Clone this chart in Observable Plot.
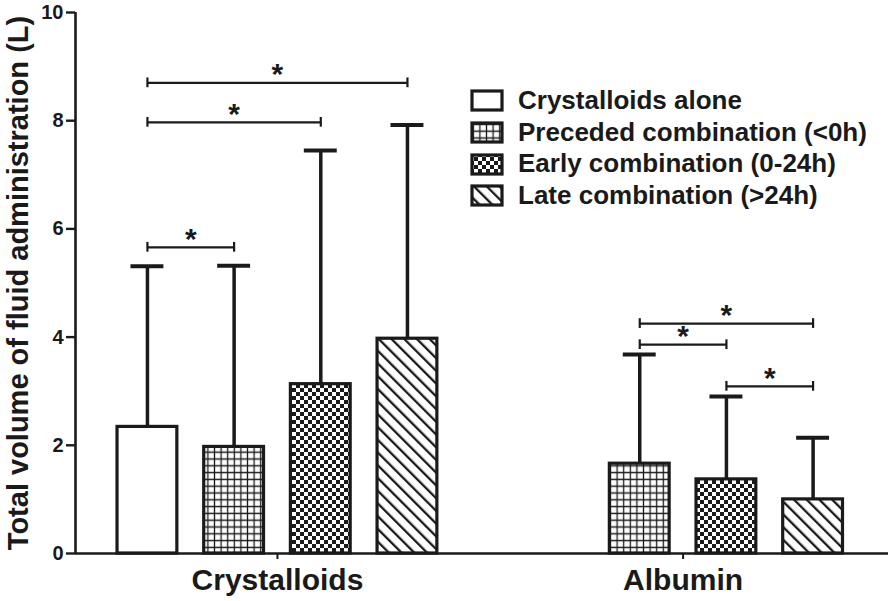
<!DOCTYPE html>
<html>
<head>
<meta charset="utf-8">
<script src="https://cdn.jsdelivr.net/npm/d3@7"></script>
<script src="https://cdn.jsdelivr.net/npm/@observablehq/plot@0.6"></script>
<style>
  html, body { margin: 0; padding: 0; background: #fff; }
  #wrap { position: relative; width: 891px; height: 601px; font-family: "Liberation Sans", Arial, sans-serif; color: #1a1a1a; }
  #wrap svg text { font-weight: bold; }
  #legend { position: absolute; left: 470px; top: 85px; font-weight: bold; font-size: 26px; line-height: 31.7px; }
  #legend .row { display: flex; align-items: center; height: 31.7px; white-space: nowrap; }
  #legend svg { margin-right: 14px; display: block; }
</style>
</head>
<body>
<svg width="0" height="0" style="position:absolute">
  <defs>
    <pattern id="pNone" patternUnits="userSpaceOnUse" width="10" height="10">
      <rect width="10" height="10" fill="#fff"/>
    </pattern>
    <pattern id="pGrid" patternUnits="userSpaceOnUse" width="6.6" height="6.8">
      <rect width="6.6" height="6.8" fill="#fff"/>
      <path d="M3.3 0V6.8M0 3.4H6.6" stroke="#1a1a1a" stroke-width="1.3"/>
    </pattern>
    <pattern id="pCheck" patternUnits="userSpaceOnUse" width="8" height="8">
      <rect width="8" height="8" fill="#fff"/>
      <rect x="0" y="0" width="4" height="4" fill="#1a1a1a"/>
      <rect x="4" y="4" width="4" height="4" fill="#1a1a1a"/>
    </pattern>
    <pattern id="pDiag" patternUnits="userSpaceOnUse" width="9" height="10" patternTransform="rotate(-45)">
      <rect width="9" height="10" fill="#fff"/>
      <rect x="0" y="0" width="2.3" height="10" fill="#1a1a1a"/>
    </pattern>
  </defs>
</svg>
<div id="wrap">
  <div id="chart"></div>
  <div id="legend"></div>
</div>
<script>
// ---- data ----
const groups = ["Crystalloids", "Albumin"];
const series = ["Crystalloids alone", "Preceded combination (<0h)", "Early combination (0-24h)", "Late combination (>24h)"];
const crystalloidMean  = [2.34, 1.97, 3.13, 3.97];
const crystalloidUpper = [5.31, 5.32, 7.45, 7.92];
const albuminMean  = [null, 1.66, 1.37, 1.00];
const albuminUpper = [null, 3.68, 2.90, 2.14];
const yTicks = [0, 2, 4, 6, 8, 10];
const yTitle = "Total volume of fluid administration (L)";

// significance brackets
const bracketGroup = ["Crystalloids", "Crystalloids", "Crystalloids", "Albumin", "Albumin", "Albumin"];
const bracketFrom  = [0, 0, 0, 1, 1, 2];
const bracketTo    = [1, 2, 3, 3, 2, 3];
const bracketY     = [5.66, 7.97, 8.70, 4.25, 3.86, 3.09];
const bracketLabel = ["*", "*", "*", "*", "*", "*"];

// ---- layout (styles, not data) ----
const patterns = ["url(#pNone)", "url(#pGrid)", "url(#pCheck)", "url(#pDiag)"];
const groupGap = 4.68;     // distance between group centres, in bar slots
const barHalf = 0.345;     // half bar width, in bar slots
const capHalf = 0.19;      // half error cap width
const tickHalf = 0.09;     // bracket end tick half height (y units)
const xDomain = [-2.33, 7.05];
const ink = "#1a1a1a";

const pos = (g, s) => groups.indexOf(g) * groupGap + s - 1.5;

const means = {Crystalloids: crystalloidMean, Albumin: albuminMean};
const uppers = {Crystalloids: crystalloidUpper, Albumin: albuminUpper};
const bars = [];
for (const g of groups) {
  series.forEach((s, i) => {
    if (means[g][i] == null) return;
    bars.push({group: g, series: s, x: pos(g, i), mean: means[g][i], upper: uppers[g][i]});
  });
}
const brackets = bracketY.map((y, i) => ({
  x1: pos(bracketGroup[i], bracketFrom[i]),
  x2: pos(bracketGroup[i], bracketTo[i]),
  y,
  label: bracketLabel[i]
}));
const groupCenters = groups.map((g, i) => i * groupGap);

const chart = Plot.plot({
  width: 891,
  height: 601,
  marginLeft: 75,
  marginRight: 3,
  marginTop: 12,
  marginBottom: 48,
  style: {fontFamily: "'Liberation Sans', Arial, sans-serif", color: ink, background: "#fff"},
  x: {domain: xDomain},
  y: {domain: [0, 10]},
  color: {domain: series, range: patterns},
  marks: [
    // error bars
    Plot.ruleX(bars, {x: "x", y1: "mean", y2: "upper", stroke: ink, strokeWidth: 3.5}),
    Plot.ruleY(bars, {x1: d => d.x - capHalf, x2: d => d.x + capHalf, y: "upper", stroke: ink, strokeWidth: 4}),
    // bars
    Plot.rect(bars, {x1: d => d.x - barHalf, x2: d => d.x + barHalf, y1: 0, y2: "mean", fill: "series", stroke: ink, strokeWidth: 3.2}),
    // brackets
    Plot.ruleY(brackets, {x1: "x1", x2: "x2", y: "y", stroke: ink, strokeWidth: 2.2}),
    Plot.ruleX(brackets, {x: "x1", y1: d => d.y - tickHalf, y2: d => d.y + tickHalf, stroke: ink, strokeWidth: 2.2}),
    Plot.ruleX(brackets, {x: "x2", y1: d => d.y - tickHalf, y2: d => d.y + tickHalf, stroke: ink, strokeWidth: 2.2}),
    Plot.text(brackets, {x: d => (d.x1 + d.x2) / 2, y: "y", text: "label", fontSize: 30, dy: -8, fill: ink}),
    // axes
    Plot.ruleY([0], {stroke: ink, strokeWidth: 2.6}),
    Plot.ruleX([xDomain[0]], {y1: 0, y2: 10, stroke: ink, strokeWidth: 2.6}),
    Plot.axisY({ticks: yTicks, tickSize: 9, tickPadding: 3, fontSize: 20, label: null, strokeWidth: 2.4, tickFormat: d => d}),
    Plot.axisX({ticks: groupCenters, tickFormat: d => groups[Math.round(d / groupGap)], tickSize: 6, tickPadding: 9, fontSize: 30, label: null, strokeWidth: 2}),
    Plot.text([yTitle], {frameAnchor: "left", textAnchor: "middle", text: d => d, rotate: -90, dx: -57, fontSize: 29, fill: ink})
  ]
});
document.getElementById("chart").append(chart);

// legend
const legend = d3.select("#legend");
series.forEach((s, i) => {
  const row = legend.append("div").attr("class", "row");
  const sw = row.append("svg").attr("width", 34).attr("height", 23);
  sw.append("rect").attr("x", 2).attr("y", 2).attr("width", 30).attr("height", 19)
    .attr("fill", patterns[i]).attr("stroke", ink).attr("stroke-width", 3.2);
  row.append("span").text(s);
});
</script>
</body>
</html>
